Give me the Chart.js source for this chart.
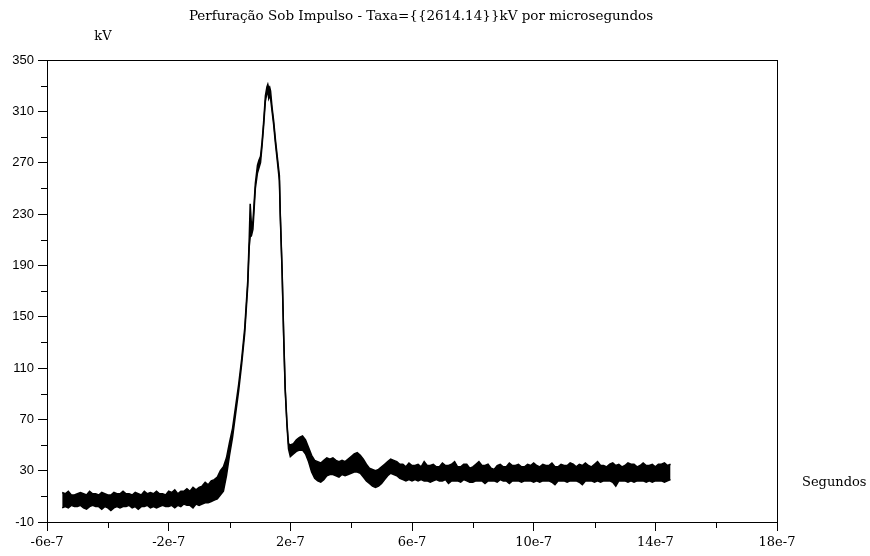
<!DOCTYPE html>
<html>
<head>
<meta charset="utf-8">
<script src="https://cdn.jsdelivr.net/npm/chart.js@4"></script>
<style>
	body { margin: 0; background: #fff; }
	#box { width: 870px; height: 556px; }
</style>
</head>
<body>
<div id="box"><canvas id="chart1"></canvas></div>
<script>
const titulo = 'Perfuração Sob Impulso - Taxa={{2614.14}}kV por microsegundos'
const rotuloY = 'kV'
const rotuloX = 'Segundos'

// eixo x em unidades de 1e-7 s
const ticksX = [-6, -2, 2, 6, 10, 14, 18]
const rotulosX = ['-6e-7', '-2e-7', '2e-7', '6e-7', '10e-7', '14e-7', '18e-7']
const ticksY = [-10, 30, 70, 110, 150, 190, 230, 270, 310, 350]

const tempo = [
	-5.5, -5.4, -5.3, -5.2, -5.1, -5.0, -4.9, -4.8, -4.7, -4.6,
	-4.5, -4.4, -4.3, -4.2, -4.1, -4.0, -3.9, -3.8, -3.7, -3.6,
	-3.5, -3.4, -3.3, -3.2, -3.1, -3.0, -2.9, -2.8, -2.7, -2.6,
	-2.5, -2.4, -2.3, -2.2, -2.1, -2.0, -1.9, -1.8, -1.7, -1.6,
	-1.5, -1.4, -1.3, -1.2, -1.1, -1.0,
	-0.9, -0.8, -0.7, -0.6, -0.5, -0.4, -0.3, -0.2, -0.1, 0.0,
	0.1, 0.2, 0.3, 0.4, 0.5, 0.6,
	0.65, 0.68, 0.72, 0.77, 0.85, 0.92, 0.97, 1.02, 1.07, 1.12,
	1.18, 1.23, 1.26, 1.29, 1.32, 1.35, 1.40, 1.45, 1.51, 1.56,
	1.64, 1.67, 1.73, 1.78, 1.83, 1.89, 1.94,
	2.0, 2.1, 2.2, 2.3, 2.4, 2.5, 2.6, 2.7, 2.8, 2.9,
	3.0, 3.1, 3.2, 3.3, 3.4, 3.5, 3.6, 3.7, 3.8, 3.9,
	4.0, 4.1, 4.2, 4.3, 4.4, 4.5, 4.6, 4.7, 4.8, 4.9,
	5.0, 5.1, 5.2, 5.3, 5.4, 5.5, 5.6, 5.7, 5.8, 5.9,
	6.0, 6.1, 6.2, 6.3, 6.4, 6.5, 6.6, 6.7, 6.8, 6.9,
	7.0, 7.1, 7.2, 7.3, 7.4, 7.5, 7.6, 7.7, 7.8, 7.9,
	8.0, 8.1, 8.2, 8.3, 8.4, 8.5, 8.6, 8.7, 8.8, 8.9,
	9.0, 9.1, 9.2, 9.3, 9.4, 9.5, 9.6, 9.7, 9.8, 9.9,
	10.0, 10.1, 10.2, 10.3, 10.4, 10.5, 10.6, 10.7, 10.8, 10.9,
	11.0, 11.1, 11.2, 11.3, 11.4, 11.5, 11.6, 11.7, 11.8, 11.9,
	12.0, 12.1, 12.2, 12.3, 12.4, 12.5, 12.6, 12.7, 12.8, 12.9,
	13.0, 13.1, 13.2, 13.3, 13.4, 13.5, 13.6, 13.7, 13.8, 13.9,
	14.0, 14.1, 14.2, 14.3, 14.4, 14.5,
]

// borda superior do traço (kV)
const kvMax = [
	13, 12, 14, 11, 11, 12, 13, 12, 11, 14,
	12, 12, 11, 13, 12, 11, 11, 13, 12, 12,
	14, 12, 12, 11, 13, 12, 11, 14, 12, 13,
	12, 14, 12, 12, 11, 14, 13, 15, 12, 14,
	14, 16, 14, 17, 15, 17,
	18, 21, 19, 22, 23, 25, 30, 33, 40, 52,
	63, 80, 97, 117, 141, 178,
	212, 238, 222, 224, 254, 268, 272, 275, 286, 301,
	322, 329, 331, 328, 329, 326, 313, 303, 288, 277,
	260, 230, 186, 137, 95, 67, 51,
	50, 51, 54, 56, 57, 54, 48, 42, 38, 37,
	36, 38, 40, 39, 40, 38, 37, 38, 37, 39,
	41, 43, 44, 42, 39, 35, 32, 31, 30, 31,
	33, 35, 37, 39, 38, 37, 35, 35, 33, 36,
	34, 34, 35, 33, 37, 34, 34, 35, 33, 33,
	36, 34, 34, 35, 37, 33, 33, 35, 35, 32,
	33, 35, 37, 34, 34, 35, 32, 31, 34, 35,
	33, 33, 36, 34, 34, 35, 33, 33, 35, 34,
	36, 34, 33, 35, 34, 34, 36, 33, 33, 35,
	34, 34, 36, 35, 33, 35, 34, 36, 34, 33,
	35, 37, 34, 34, 33, 35, 36, 34, 35, 33,
	34, 36, 35, 35, 33, 34, 36, 34, 34, 35,
	33, 35, 35, 36, 34, 35,
]

// borda inferior do traço (kV)
const kvMin = [
	1, 2, 1, 3, 2, 2, 3, 1, 0, 2,
	3, 2, 2, 0, 2, 1, -1, 1, 2, 1,
	2, 2, 3, 1, 2, 0, 2, 2, 3, 1,
	2, 1, 2, 3, 2, 2, 3, 1, 3, 2,
	4, 3, 3, 1, 4, 3,
	4, 5, 5, 6, 7, 8, 11, 14, 26, 42,
	56, 74, 92, 113, 137, 174,
	205, 212, 213, 218, 250, 262, 266, 270, 283, 298,
	318, 324, 326, 320, 322, 320, 310, 300, 285, 274,
	256, 228, 184, 135, 93, 65, 47,
	41, 43, 45, 46, 46, 43, 37, 29, 24, 22,
	21, 23, 26, 27, 27, 26, 25, 27, 26, 27,
	28, 29, 29, 28, 25, 22, 20, 18, 17, 18,
	20, 23, 26, 28, 27, 26, 24, 23, 22, 23,
	22, 23, 22, 23, 22, 22, 21, 22, 23, 22,
	22, 23, 20, 22, 22, 22, 21, 23, 22, 21,
	21, 22, 22, 22, 20, 22, 22, 22, 21, 23,
	22, 22, 20, 22, 22, 22, 21, 22, 22, 22,
	21, 22, 21, 22, 22, 22, 21, 19, 22, 22,
	22, 21, 22, 22, 22, 21, 19, 22, 22, 22,
	21, 22, 21, 22, 22, 22, 21, 18, 22, 22,
	22, 21, 22, 21, 22, 22, 22, 21, 22, 21,
	22, 22, 22, 21, 22, 23,
]

// marcas menores, caixa e textos soltos
const extras = {
	id: 'extras',
	afterDraw(chart) {
		const { ctx, chartArea, scales } = chart
		ctx.save()
		ctx.strokeStyle = '#000'
		ctx.lineWidth = 1
		ctx.beginPath()
		for (let i = 0; i < ticksY.length - 1; i++) {
			const y = Math.round(scales.y.getPixelForValue((ticksY[i] + ticksY[i + 1]) / 2)) + 0.5
			ctx.moveTo(chartArea.left - 6, y)
			ctx.lineTo(chartArea.left, y)
		}
		for (let i = 0; i < ticksX.length - 1; i++) {
			const x = Math.round(scales.x.getPixelForValue((ticksX[i] + ticksX[i + 1]) / 2)) + 0.5
			ctx.moveTo(x, chartArea.bottom)
			ctx.lineTo(x, chartArea.bottom + 6)
		}
		ctx.stroke()
		ctx.strokeRect(
			Math.round(chartArea.left) + 0.5,
			Math.round(chartArea.top) + 0.5,
			Math.round(chartArea.right - chartArea.left),
			Math.round(chartArea.bottom - chartArea.top)
		)

		ctx.fillStyle = '#000'
		ctx.textBaseline = 'middle'
		ctx.font = '13.5px "DejaVu Serif"'
		ctx.textAlign = 'center'
		ctx.fillText(titulo, 421, 16)
		ctx.font = '13px "DejaVu Serif"'
		ctx.fillText(rotuloY, 103, 37)
		ctx.textAlign = 'left'
		ctx.fillText(rotuloX, 802, 483)
		ctx.restore()
	},
}

const chartData = {
	datasets: [
		{
			data: tempo.map((t, i) => ({ x: t, y: kvMin[i] })),
			borderColor: '#000',
			borderWidth: 1.5,
			pointRadius: 0,
			fill: false,
		},
		{
			data: tempo.map((t, i) => ({ x: t, y: kvMax[i] })),
			borderColor: '#000',
			backgroundColor: '#000',
			borderWidth: 1.5,
			pointRadius: 0,
			fill: '-1',
		},
	],
}

const optionsData = {
	responsive: true,
	maintainAspectRatio: false,
	animation: false,
	layout: { padding: { top: 60, right: 93, left: 0, bottom: 0 } },
	plugins: {
		legend: { display: false },
		tooltip: { enabled: false },
	},
	scales: {
		x: {
			type: 'linear',
			min: -6,
			max: 18,
			afterBuildTicks: scale => { scale.ticks = ticksX.map(v => ({ value: v })) },
			afterFit: scale => { scale.height = 34 },
			ticks: {
				color: '#000',
				padding: 4,
				maxRotation: 0,
				font: { family: 'DejaVu Serif', size: 13 },
				callback: v => rotulosX[ticksX.indexOf(v)],
			},
			grid: { drawOnChartArea: false, tickLength: 9, color: '#000' },
			border: { color: '#000', width: 1 },
		},
		y: {
			min: -10,
			max: 350,
			afterBuildTicks: scale => { scale.ticks = ticksY.map(v => ({ value: v })) },
			afterFit: scale => { scale.width = 47 },
			ticks: {
				color: '#000',
				padding: 4,
				font: { family: 'Liberation Sans', size: 13 },
			},
			grid: { drawOnChartArea: false, tickLength: 9, color: '#000' },
			border: { color: '#000', width: 1 },
		},
	},
}

new Chart('chart1', { type: 'line', data: chartData, options: optionsData, plugins: [extras] })
</script>
</body>
</html>
